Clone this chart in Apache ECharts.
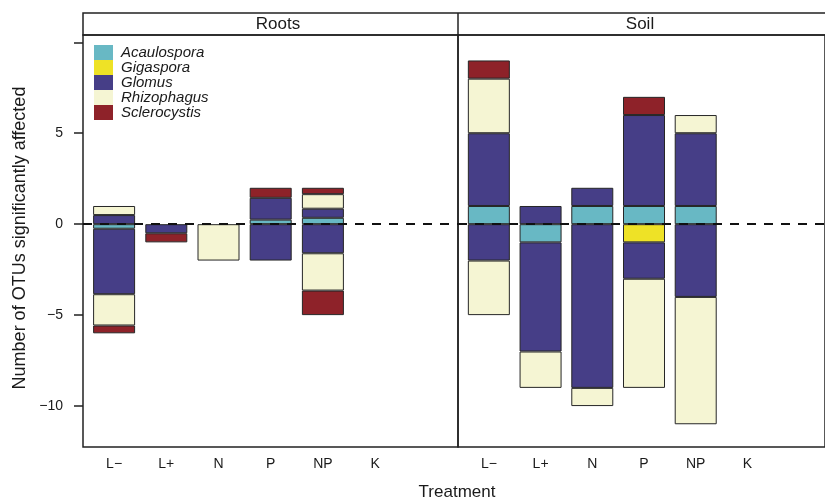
<!DOCTYPE html>
<html>
<head>
<meta charset="utf-8">
<script src="https://cdn.jsdelivr.net/npm/echarts@6/dist/echarts.min.js"></script>
<style>html,body{margin:0;padding:0;background:#fff}#c{width:825px;height:500px}</style>
</head>
<body>
<div id="c"></div>
<script>
const categories = ['L\u2212', 'L+', 'N', 'P', 'NP', 'K'];
const genera = ['Acaulospora', 'Gigaspora', 'Glomus', 'Rhizophagus', 'Sclerocystis'];
const colors = ['#68B8C4', '#EEE226', '#463E87', '#F5F5D3', '#8E2229'];
const panels = ['Roots', 'Soil'];
const yTicks = [-10, -5, 0, 5, 10];
const yTickLabels = [-10, -5, 0, 5];

// Roots: positive and negative parts per genus (categories order)
const rootsAcaulosporaPos  = [null, null, null, 0.25, 0.35, null];
const rootsAcaulosporaNeg  = [-0.25, null, null, null, null, null];
const rootsGigasporaPos    = [null, null, null, null, null, null];
const rootsGigasporaNeg    = [null, null, null, null, null, null];
const rootsGlomusPos       = [0.5, null, null, 1.2, 0.5, null];
const rootsGlomusNeg       = [-3.6, -0.5, null, -2, -1.6, null];
const rootsRhizophagusPos  = [0.5, null, null, null, 0.8, null];
const rootsRhizophagusNeg  = [-1.72, null, -2, null, -2.05, null];
const rootsSclerocystisPos = [null, null, null, 0.55, 0.35, null];
const rootsSclerocystisNeg = [-0.43, -0.5, null, null, -1.35, null];

// Soil
const soilAcaulosporaPos  = [1, null, 1, 1, 1, null];
const soilAcaulosporaNeg  = [null, -1, null, null, null, null];
const soilGigasporaPos    = [null, null, null, null, null, null];
const soilGigasporaNeg    = [null, null, null, -1, null, null];
const soilGlomusPos       = [4, 1, 1, 5, 4, null];
const soilGlomusNeg       = [-2, -6, -9, -2, -4, null];
const soilRhizophagusPos  = [3, null, null, null, 1, null];
const soilRhizophagusNeg  = [-3, -2, -1, -6, -7, null];
const soilSclerocystisPos = [1, null, null, 1, null, null];
const soilSclerocystisNeg = [null, null, null, null, null, null];

const panelData = [
  [[rootsAcaulosporaPos, rootsAcaulosporaNeg], [rootsGigasporaPos, rootsGigasporaNeg],
   [rootsGlomusPos, rootsGlomusNeg], [rootsRhizophagusPos, rootsRhizophagusNeg],
   [rootsSclerocystisPos, rootsSclerocystisNeg]],
  [[soilAcaulosporaPos, soilAcaulosporaNeg], [soilGigasporaPos, soilGigasporaNeg],
   [soilGlomusPos, soilGlomusNeg], [soilRhizophagusPos, soilRhizophagusNeg],
   [soilSclerocystisPos, soilSclerocystisNeg]]
];

const FONT = '"Liberation Sans", Arial, Helvetica, sans-serif';
const TXT = '#1a1a1a';
const YMIN = -12.25, YMAX = 10.4;
const axisCats = categories.concat(['']);

const series = [];
// frame grids 0,1 carry the dashed zero line
[0, 1].forEach(function (p) {
  series.push({
    type: 'line', xAxisIndex: p, yAxisIndex: p, data: [], z: 10, silent: true,
    markLine: {
      silent: true, symbol: ['none', 'none'], label: { show: false },
      lineStyle: { color: '#111', width: 2, type: [9, 8] },
      data: [{ yAxis: 0 }]
    }
  });
});
// bar grids 2,3
panelData.forEach(function (pd, p) {
  pd.forEach(function (pair, g) {
    pair.forEach(function (arr) {
      series.push({
        type: 'bar',
        name: genera[g],
        xAxisIndex: p + 2, yAxisIndex: p + 2,
        stack: 'panel' + p,
        stackStrategy: 'samesign',
        barWidth: 42,
        z: 2,
        itemStyle: { color: colors[g], borderColor: '#262626', borderWidth: 1 },
        data: arr.map(function (v) { return v == null ? null : v; })
      });
    });
  });
});

const frameBase = { top: 35, width: 375, height: 412, show: true, borderColor: '#222', borderWidth: 1.5 };
const barBase = { top: 35, width: 365.4, height: 412, show: false };
const hiddenVal = { type: 'value', min: 0, max: 1, show: false };
const catAxis = {
  type: 'category', data: axisCats, boundaryGap: true,
  axisLine: { show: false, onZero: false }, axisTick: { show: false }, splitLine: { show: false },
  axisLabel: { interval: 0, margin: 10, fontSize: 14, color: TXT, fontFamily: FONT }
};
const chart = echarts.init(document.getElementById('c'), null, { renderer: 'canvas' });
chart.setOption({
  animation: false,
  backgroundColor: '#fff',
  grid: [
    Object.assign({ left: 83 }, frameBase), Object.assign({ left: 458 }, frameBase),
    Object.assign({ left: 88 }, barBase), Object.assign({ left: 463 }, barBase)
  ],
  xAxis: [
    Object.assign({ gridIndex: 0 }, hiddenVal), Object.assign({ gridIndex: 1 }, hiddenVal),
    Object.assign({ gridIndex: 2 }, catAxis), Object.assign({ gridIndex: 3 }, catAxis)
  ],
  yAxis: [
    {
      type: 'value', gridIndex: 0, min: YMIN, max: YMAX,
      axisLine: { show: false, onZero: false }, splitLine: { show: false },
      axisTick: { show: true, customValues: yTicks, length: 9, lineStyle: { color: '#222', width: 1.5 } },
      axisLabel: {
        customValues: yTickLabels, margin: 20, fontSize: 14, color: TXT, fontFamily: FONT,
        formatter: function (v) { return v < 0 ? '\u2212' + Math.abs(v) : String(v); }
      }
    },
    { type: 'value', gridIndex: 1, min: YMIN, max: YMAX, show: false, axisLine: { onZero: false } },
    { type: 'value', gridIndex: 2, min: YMIN, max: YMAX, show: false, axisLine: { onZero: false } },
    { type: 'value', gridIndex: 3, min: YMIN, max: YMAX, show: false, axisLine: { onZero: false } }
  ],
  legend: {
    data: genera, orient: 'vertical', left: 94, top: 45, padding: 0, itemGap: 0,
    itemWidth: 19, itemHeight: 15, icon: 'rect',
    itemStyle: { borderWidth: 0 },
    textStyle: { fontStyle: 'italic', fontSize: 15, lineHeight: 15, color: TXT, fontFamily: FONT, padding: [0, 0, 0, 3] },
    selectedMode: false
  },
  graphic: [
    { type: 'rect', silent: true, shape: { x: 83, y: 13, width: 750, height: 22 },
      style: { fill: 'none', stroke: '#222', lineWidth: 1.5 } },
    { type: 'line', silent: true, shape: { x1: 458, y1: 13, x2: 458, y2: 35 },
      style: { stroke: '#222', lineWidth: 1.5 } },
    { type: 'text', silent: true, x: 278, y: 24,
      style: { text: panels[0], fontSize: 17, fontFamily: FONT, fill: TXT, textAlign: 'center', textVerticalAlign: 'middle' } },
    { type: 'text', silent: true, x: 640, y: 24,
      style: { text: panels[1], fontSize: 17, fontFamily: FONT, fill: TXT, textAlign: 'center', textVerticalAlign: 'middle' } },
    { type: 'text', silent: true, x: 457, y: 492,
      style: { text: 'Treatment', fontSize: 17, fontFamily: FONT, fill: TXT, textAlign: 'center', textVerticalAlign: 'middle' } },
    { type: 'text', silent: true, x: 20, y: 238, rotation: Math.PI / 2,
      style: { text: 'Number of OTUs significantly affected', fontSize: 18, fontFamily: FONT, fill: TXT, textAlign: 'center', textVerticalAlign: 'middle' } }
  ],
  series: series
});
</script>
</body>
</html>
